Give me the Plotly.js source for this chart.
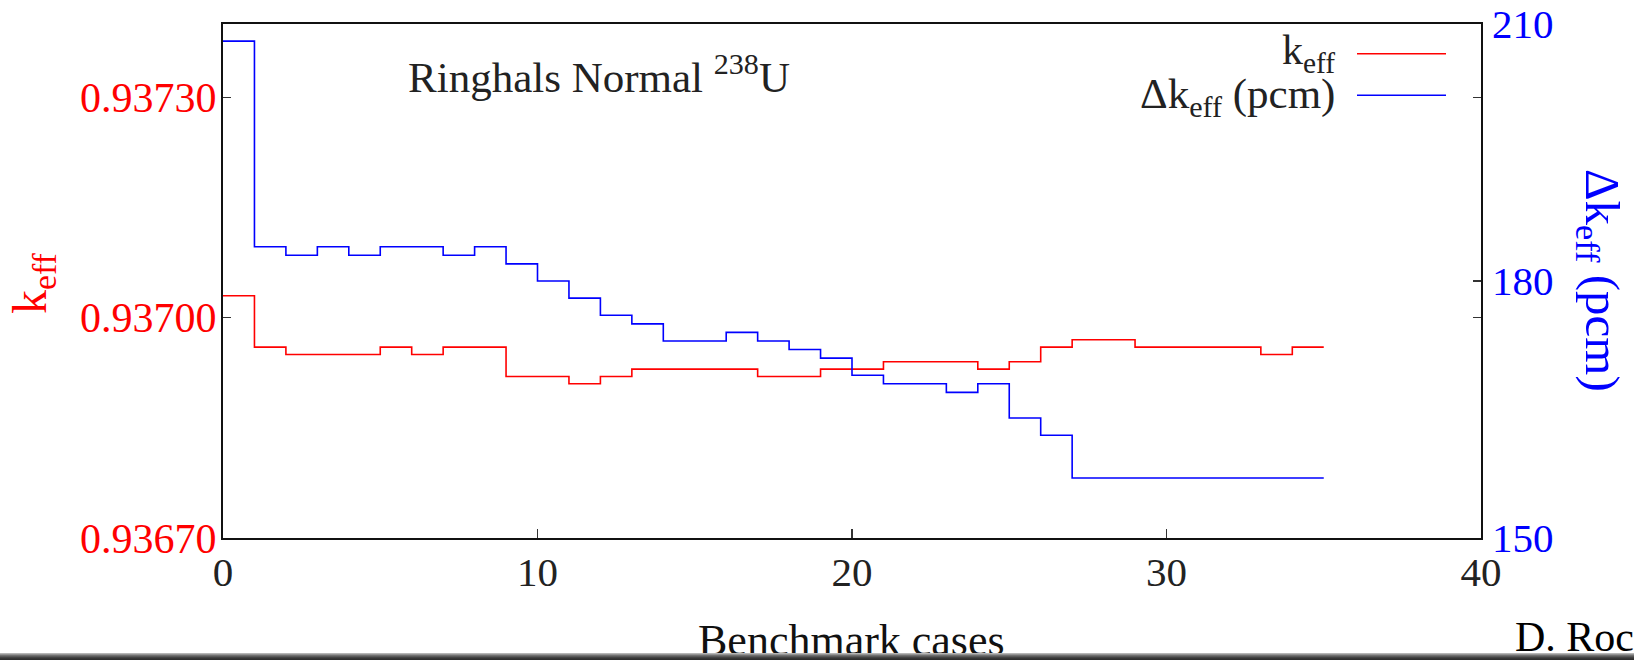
<!DOCTYPE html>
<html>
<head>
<meta charset="utf-8">
<script src="https://cdn.plot.ly/plotly-3.0.1.min.js"></script>
<style>
  html, body { margin: 0; padding: 0; background: #ffffff; }
  #chart { width: 1634px; height: 660px; position: relative; }
  #bar { position: absolute; left: 0; top: 653px; width: 1634px; height: 7px;
         background: linear-gradient(#c8c8c8, #707070 35%, #3a3a3a 70%, #2a2a2a); }
</style>
</head>
<body>
<div id="chart"></div>
<div id="bar"></div>
<script>
// Benchmark case index (step edges)
const cases = [0,1,2,3,4,5,6,7,8,9,10,11,12,13,14,15,16,17,18,19,20,21,22,23,24,25,26,27,28,29,30,31,32,33,34,35];
// k_eff per case (last value repeats to close the final step)
const keff = [0.93703,0.93696,0.93695,0.93695,0.93695,0.93696,0.93695,0.93696,0.93696,0.93692,
              0.93692,0.93691,0.93692,0.93693,0.93693,0.93693,0.93693,0.93692,0.93692,0.93693,
              0.93693,0.93694,0.93694,0.93694,0.93693,0.93694,0.93696,0.93697,0.93697,0.93696,
              0.93696,0.93696,0.93696,0.93695,0.93696,0.93696];
// Delta k_eff (pcm) per case
const dkeff = [208,184,183,184,183,184,184,183,184,182,
               180,178,176,175,173,173,174,173,172,171,
               169,168,168,167,168,164,162,157,157,157,
               157,157,157,157,157,157];
const xTicks = [0,10,20,30,40];
const kTicks = [0.9367,0.9370,0.9373];
const dTicks = [150,180,210];

const serif = "Liberation Serif, DejaVu Serif, serif";
const L = 223, R = 153, T = 24, B = 122;
const W = 1634 - L - R, H = 660 - T - B;
const px = x => (x - L) / W;          // page px -> paper x
const py = y => (660 - B - y) / H;    // page px -> paper y

const traces = [
  { x: cases, y: keff, type: 'scatter', mode: 'lines', line: { shape: 'hv', color: '#ff0000', width: 1.6 },
    name: 'k<sub>eff</sub>', yaxis: 'y', showlegend: false, hoverinfo: 'x+y' },
  { x: cases, y: dkeff, type: 'scatter', mode: 'lines', line: { shape: 'hv', color: '#0000ff', width: 1.6 },
    name: 'Δk<sub>eff</sub> (pcm)', yaxis: 'y2', showlegend: false, hoverinfo: 'x+y' }
];

const layout = {
  width: 1634, height: 660,
  margin: { l: L, r: R, t: T, b: B, pad: 0 },
  paper_bgcolor: '#ffffff', plot_bgcolor: '#ffffff',
  font: { family: serif, color: '#222222' },
  showlegend: false,
  xaxis: {
    range: [0, 40], tickvals: xTicks, ticktext: xTicks.map(String),
    ticks: 'inside', ticklen: 9, tickwidth: 1.2, tickcolor: '#333',
    showline: true, linecolor: '#111', linewidth: 2.2, mirror: true,
    showgrid: false, zeroline: false,
    tickfont: { family: serif, size: 41, color: '#222' }, ticklabelstandoff: -3
  },
  yaxis: {
    range: [0.9367, 0.9374], tickvals: kTicks, ticktext: kTicks.map(v => v.toFixed(5)),
    ticks: 'inside', ticklen: 8, tickwidth: 1.2, tickcolor: '#333',
    showline: true, linecolor: '#111', linewidth: 2.2, mirror: 'ticks',
    showgrid: false, zeroline: false,
    tickfont: { family: serif, size: 42, color: '#ff0000' }, ticklabelstandoff: -4
  },
  yaxis2: {
    range: [150, 210], tickvals: dTicks, ticktext: dTicks.map(String),
    overlaying: 'y', side: 'right', anchor: 'x',
    ticks: 'inside', ticklen: 8, tickwidth: 1.2, tickcolor: '#333',
    showline: false, showgrid: false, zeroline: false,
    tickfont: { family: serif, size: 41, color: '#0000ff' }, ticklabelstandoff: 10
  },
  annotations: [
    { text: 'Ringhals Normal <sup>238</sup>U', xref: 'paper', yref: 'paper', x: px(599), y: py(74),
      xanchor: 'center', yanchor: 'middle', showarrow: false, font: { family: serif, size: 43, color: '#222' } },
    { text: 'k<sub>eff</sub>', xref: 'paper', yref: 'paper', x: px(1337), y: py(53),
      xanchor: 'right', yanchor: 'middle', showarrow: false, font: { family: serif, size: 42, color: '#222' } },
    { text: 'Δk<sub>eff</sub> (pcm)', xref: 'paper', yref: 'paper', x: px(1337), y: py(97),
      xanchor: 'right', yanchor: 'middle', showarrow: false, font: { family: serif, size: 43, color: '#222' } },
    { text: 'k<sub>eff</sub>', xref: 'paper', yref: 'paper', x: px(33), y: py(283), textangle: -90,
      xanchor: 'center', yanchor: 'middle', showarrow: false, font: { family: serif, size: 48, color: '#ff0000' } },
    { text: 'Δk<sub>eff</sub> (pcm)', xref: 'paper', yref: 'paper', x: px(1600), y: py(280), textangle: 90,
      xanchor: 'center', yanchor: 'middle', showarrow: false, font: { family: serif, size: 49, color: '#0000ff' } },
    { text: 'Benchmark cases', xref: 'paper', yref: 'paper', x: px(851), y: py(640),
      xanchor: 'center', yanchor: 'middle', showarrow: false, font: { family: serif, size: 44, color: '#111' } },
    { text: 'D. Roc', xref: 'paper', yref: 'paper', x: px(1513), y: py(637),
      xanchor: 'left', yanchor: 'middle', showarrow: false, font: { family: serif, size: 42, color: '#000' } }
  ],
  shapes: [
    { type: 'line', xref: 'paper', yref: 'paper', x0: px(1357), x1: px(1446), y0: py(53.7), y1: py(53.7),
      line: { color: '#ff0000', width: 1.6 } },
    { type: 'line', xref: 'paper', yref: 'paper', x0: px(1357), x1: px(1446), y0: py(95.3), y1: py(95.3),
      line: { color: '#0000ff', width: 1.6 } }
  ]
};

Plotly.newPlot('chart', traces, layout, { displayModeBar: false, staticPlot: true });
</script>
</body>
</html>
